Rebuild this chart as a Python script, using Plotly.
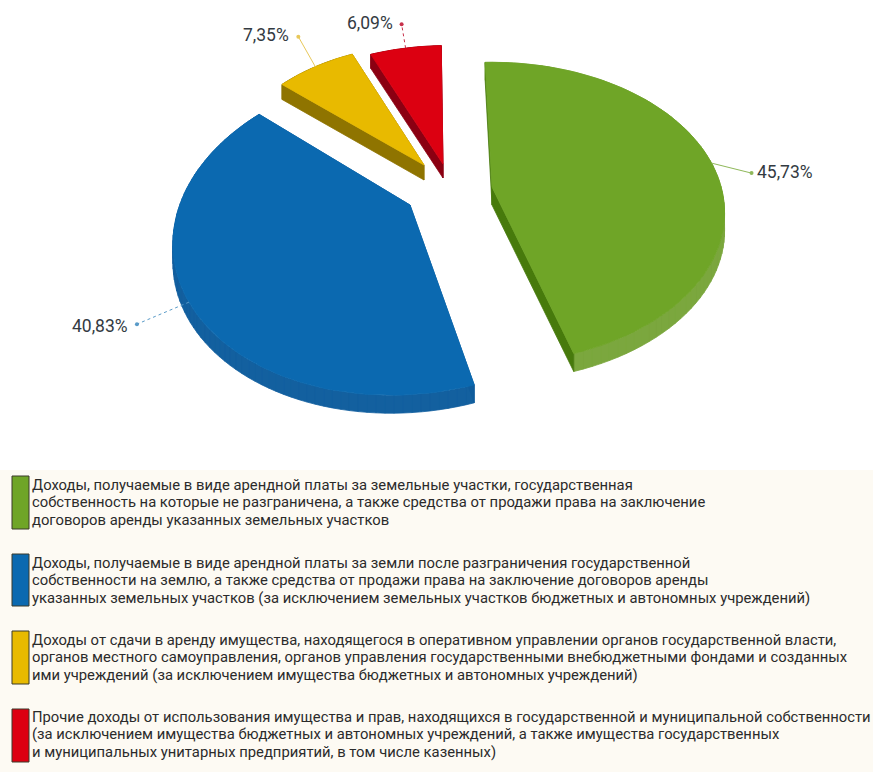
import numpy as np
import plotly.graph_objects as go

CATEGORIES = [
    ["Доходы, получаемые в виде арендной платы за земельные участки, государственная",
     "собственность на которые не разграничена, а также средства от продажи права на заключение",
     "договоров аренды указанных земельных участков"],
    ["Доходы, получаемые в виде арендной платы за земли после разграничения государственной",
     "собственности на землю, а также средства от продажи права на заключение договоров аренды",
     "указанных земельных участков (за исключением земельных участков бюджетных и автономных учреждений)"],
    ["Доходы от сдачи в аренду имущества, находящегося в оперативном управлении органов государственной власти,",
     "органов местного самоуправления, органов управления государственными внебюджетными фондами и созданных",
     "ими учреждений (за исключением имущества бюджетных и автономных учреждений)"],
    ["Прочие доходы от использования имущества и прав, находящихся в государственной и муниципальной собственности",
     "(за исключением имущества бюджетных и автономных учреждений, а также имущества государственных",
     "и муниципальных унитарных предприятий, в том числе казенных)"],
]
SHARES = [45.73, 40.83, 7.35, 6.09]

TOP_COLORS = ["#6fa527", "#0b69b0", "#e8ba00", "#dc0011"]
ARC_COLORS = ["#7ba73e", "#13609f", "#8f7400", "#8b0012"]
CUT_COLORS = ["#477a0c", "#0f5c9c", "#8f7400", "#8b0012"]
LEADER_COLORS = ["#8fb85a", "#5a9bc8", "#e8c85a", "#c8304a"]

# projection of each exploded slice on the page
APEX_X = [492, 410, 424, 443]
APEX_Y = [187, 205, 165, 164]
SCALE_X = [0.975, 0.98, 0.87, 0.93]
SCALE_Y = [1.0, 1.08, 0.96, 0.95]
SKEW = [0.0, -0.1, 0.0, -0.04]
DEPTH = [18, 18, 15, 14]
LEADER_DX = [40, -52, -17, -4]
LEADER_DY = [10, 22, -30, -24]
LABEL_DX = [33, -37, -32, -32]
LABEL_DY = [-1, 2, -2, -1]

START = -2.0
RX, RY, K = 235.0, 146.0, 0.171

PANEL_TOP = 470
SWATCH_Y0 = [476, 554, 631, 709]
SWATCH_Y1 = [529, 606, 684, 762]
TEXT_X = 30
TEXT_Y = [485, 563, 640, 717]
LINE_STEP = 17.3


def project(theta_deg, r, i):
    t = np.radians(theta_deg)
    u, v = r * np.sin(t), r * np.cos(t)
    d = 1 + K * v
    y = -RY * v / d * SCALE_Y[i]
    x = RX * u / d * SCALE_X[i] + SKEW[i] * y
    return APEX_X[i] + x, APEX_Y[i] + y


def quads(xs, ys, depth):
    qx, qy = [], []
    for j in range(len(xs) - 1):
        qx += [xs[j], xs[j + 1], xs[j + 1], xs[j], xs[j], None]
        qy += [ys[j], ys[j + 1], ys[j + 1] + depth, ys[j] + depth, ys[j], None]
    return qx, qy


def poly(fig, x, y, color):
    fig.add_trace(go.Scatter(x=x, y=y, mode="lines", fill="toself", fillcolor=color,
                             line=dict(color=color, width=0.8), hoverinfo="skip",
                             showlegend=False))


fig = go.Figure()
angle = START
annotations = []
for i, share in enumerate(SHARES):
    sweep = share / 100 * 360
    th = np.linspace(angle, angle + sweep, 80)
    ax, ay = project(th, 1.0, i)
    cx, cy = float(APEX_X[i]), float(APEX_Y[i])
    # walls
    qx, qy = quads(list(ax), list(ay), DEPTH[i])
    poly(fig, qx, qy, ARC_COLORS[i])
    for ex, ey in ((ax[0], ay[0]), (ax[-1], ay[-1])):
        qx, qy = quads([cx, ex], [cy, ey], DEPTH[i])
        poly(fig, qx, qy, CUT_COLORS[i])
    # top face
    poly(fig, [cx] + list(ax) + [cx], [cy] + list(ay) + [cy], TOP_COLORS[i])
    # leader and label
    mx, my = project(angle + sweep / 2, 1.0, i)
    ex, ey = mx + LEADER_DX[i], my + LEADER_DY[i]
    fig.add_trace(go.Scatter(x=[mx, ex], y=[my, ey], mode="lines",
                             line=dict(color=LEADER_COLORS[i], width=1,
                                       dash="dot" if i in (1, 3) else "solid"),
                             hoverinfo="skip", showlegend=False))
    fig.add_trace(go.Scatter(x=[ex], y=[ey], mode="markers",
                             marker=dict(color=LEADER_COLORS[i], size=4),
                             hoverinfo="skip", showlegend=False))
    annotations.append(dict(x=ex + LABEL_DX[i], y=ey + LABEL_DY[i], xref="x", yref="y",
                            text=f"{share:.2f}%".replace(".", ","), showarrow=False,
                            font=dict(family="Roboto", size=17.5, color="#333a42")))
    angle += sweep

shapes = [dict(type="rect", x0=0, x1=873, y0=PANEL_TOP, y1=772, xref="x", yref="y",
               fillcolor="#fdfaf3", line=dict(width=0), layer="below")]
for i, lines in enumerate(CATEGORIES):
    shapes.append(dict(type="rect", x0=12, x1=29, y0=SWATCH_Y0[i], y1=SWATCH_Y1[i],
                       xref="x", yref="y", fillcolor=TOP_COLORS[i],
                       line=dict(color="#3a3a2a", width=1)))
    for n, line in enumerate(lines):
        annotations.append(dict(x=TEXT_X, y=TEXT_Y[i] + n * LINE_STEP, xref="x", yref="y", text=line,
                                xanchor="left", yanchor="middle", align="left", showarrow=False,
                                font=dict(family="Roboto", size=14.8, color="#2b2b2b")))

fig.update_layout(
    width=873, height=772, margin=dict(l=0, r=0, t=0, b=0),
    paper_bgcolor="white", plot_bgcolor="white",
    xaxis=dict(range=[0, 873], visible=False, fixedrange=True),
    yaxis=dict(range=[772, 0], visible=False, fixedrange=True),
    shapes=shapes, annotations=annotations, showlegend=False,
)
fig.write_html("out.html", config={"displayModeBar": False},
               post_script="document.body.style.margin='0';document.documentElement.style.overflow='hidden';")
